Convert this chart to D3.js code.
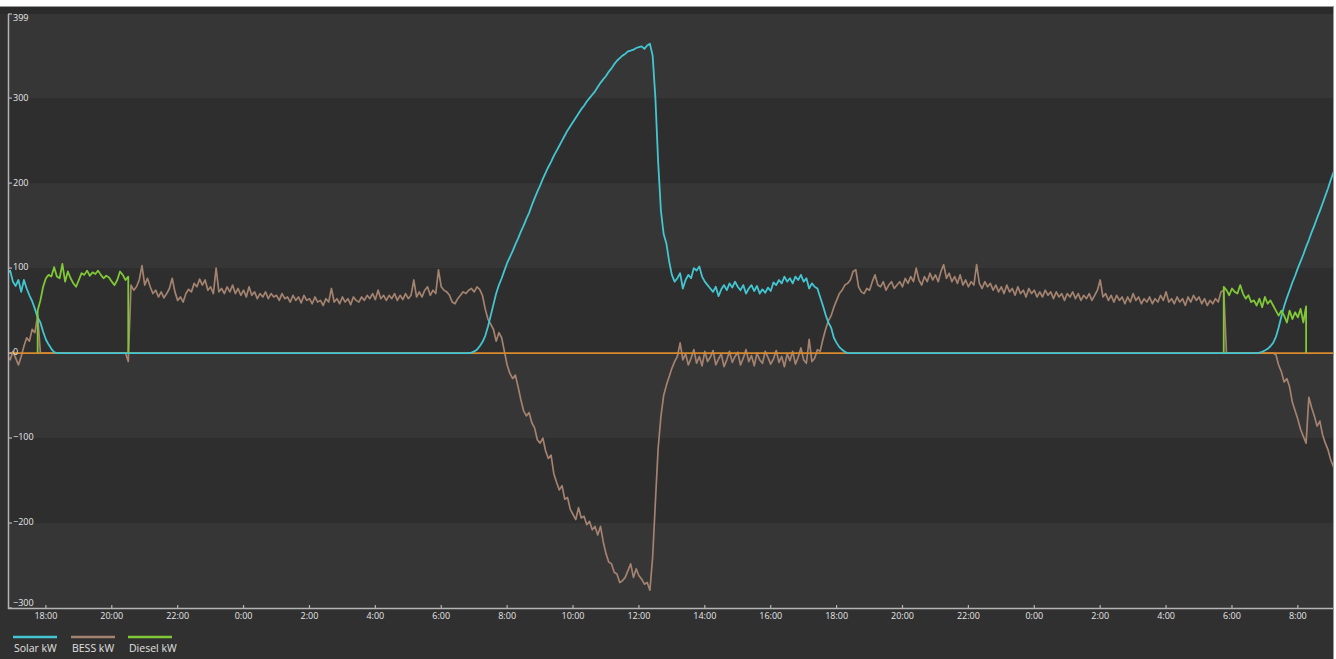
<!DOCTYPE html>
<html><head><meta charset="utf-8">
<script src="https://cdn.jsdelivr.net/npm/d3@7"></script>
<style>html,body{margin:0;padding:0;background:#fff;overflow:hidden}svg{display:block}</style>
</head><body>
<svg id="chart" width="1336" height="659"></svg>
<script>
// ---------- DATA ----------
const xDomain = ["2024-01-01T16:51", "2024-01-03T09:04"];
const yTicks = [-300, -200, -100, 0, 100, 200, 300, 399];
const legendLabels = ["Solar kW", "BESS kW", "Diesel kW"];
const stepMinutes = 5;

// BESS kW, every 5 minutes from 16:50 (one row = one hour)
const bessStart = "2024-01-01T16:50";
const bessValues = [
  -3, -8, 2, -6, -14, -4, 8, 18, 14, 28, 24, 44,
  0, 0, 0, 0, 0, 0, 0, 0, 0, 0, 0, 0,
  0, 0, 0, 0, 0, 0, 0, 0, 0, 0, 0, 0,
  0, 0, 0, 0, 0, 0, 0, 0, -10, 80, 74, 78,
  86, 103, 80, 88, 78, 70, 74, 66, 72, 65, 70, 76,
  88, 72, 62, 66, 60, 70, 75, 72, 82, 78, 87, 80,
  86, 74, 78, 70, 100, 72, 76, 70, 78, 72, 80, 70,
  76, 68, 74, 66, 78, 68, 72, 64, 70, 66, 72, 64,
  70, 66, 68, 62, 70, 64, 66, 60, 68, 62, 66, 59,
  68, 62, 64, 58, 66, 60, 62, 56, 64, 60, 76, 60,
  64, 58, 66, 60, 64, 57, 66, 62, 60, 66, 62, 68,
  64, 70, 63, 74, 64, 68, 62, 68, 64, 70, 62, 68,
  63, 70, 64, 68, 86, 66, 72, 66, 74, 78, 68, 74,
  70, 98, 78, 74, 72, 68, 60, 58, 64, 68, 72, 70,
  74, 76, 72, 78, 75, 68, 52, 40, 34, 28, 14, 24,
  18, 2, -14, -24, -30, -26, -40, -55, -68, -74, -70, -82,
  -88, -102, -106, -100, -115, -124, -120, -142, -152, -161, -156, -172,
  -170, -184, -190, -196, -182, -194, -192, -202, -198, -208, -204, -214,
  -204, -222, -236, -246, -248, -258, -260, -270, -268, -264, -256, -248,
  -264, -254, -262, -266, -272, -270, -279, -240, -175, -112, -75, -50,
  -38, -28, -18, -10, -4, 12, -8, -1, -14, -6, 4, -12,
  -4, -15, 2, -10, -5, 3, -14, -7, -1, -16, -8, 2,
  -11, -4, 1, -14, -6, 4, -10, -3, -15, 0, -8, -12,
  2, -5, -13, -7, 3, -11, -4, -16, -1, -9, 2, -13,
  -5, 6, -8, -12, 16, -10, -6, 4, 2, 16, 28, 38,
  44, 54, 62, 70, 74, 80, 82, 86, 96, 98, 78, 72,
  70, 76, 74, 84, 92, 80, 78, 84, 74, 80, 84, 76,
  80, 84, 78, 88, 82, 90, 84, 100, 86, 80, 90, 84,
  94, 86, 92, 84, 96, 104, 88, 94, 84, 90, 82, 92,
  80, 86, 78, 84, 80, 104, 82, 76, 84, 78, 82, 74,
  80, 72, 78, 70, 80, 72, 76, 68, 78, 70, 74, 66,
  76, 70, 74, 66, 72, 66, 74, 68, 72, 64, 72, 66,
  70, 62, 70, 66, 72, 64, 70, 62, 68, 64, 70, 62,
  68, 74, 86, 66, 70, 62, 68, 60, 68, 62, 66, 58,
  66, 60, 70, 62, 66, 58, 64, 60, 66, 58, 64, 60,
  68, 62, 72, 60, 64, 58, 66, 60, 64, 56, 66, 60,
  68, 62, 66, 58, 64, 56, 62, 58, 64, 60, 72, 74,
  0, 0, 0, 0, 0, 0, 0, 0, 0, 0, 0, 0,
  0, 0, 0, 0, 0, 0, -2, -14, -22, -34, -30, -40,
  -58, -68, -78, -90, -98, -106, -52, -64, -74, -86, -80, -96,
  -106, -114, -126, -134
];

// Solar kW, every 5 minutes, per day (zero between the days)
const solarDay1Start = "2024-01-01T16:50";
const solarDay1 = [94, 97, 84, 79, 86, 72, 86, 76, 68, 61, 52, 42, 36, 25, 16, 10, 5, 1, 0];
const solarDay2Start = "2024-01-02T06:50";
const solarDay2 = [
  0, 0.5, 2, 4, 8, 13, 20, 31, 44, 57, 70, 80,
  88, 97, 106, 113, 120, 128, 135, 143, 150, 158, 165, 174,
  182, 190, 197, 205, 212, 219, 225, 232, 238, 244, 250, 256,
  262, 267, 272, 277, 282, 287, 291, 296, 300, 304, 308, 313,
  318, 322, 326, 331, 335, 340, 344, 347, 350, 352, 355, 356,
  357, 359, 360, 361, 358, 362, 364, 350, 300, 225, 168, 140,
  129, 108, 92, 84, 88, 94, 76, 86, 92, 88, 100, 97,
  102, 90, 84, 80, 76, 72, 78, 67, 75, 80, 74, 82,
  77, 84, 78, 74, 80, 70, 76, 80, 73, 79, 70, 75,
  71, 77, 73, 83, 80, 86, 82, 90, 84, 88, 82, 90,
  86, 92, 84, 88, 76, 82, 78, 76, 66, 56, 45, 36,
  30, 18, 12, 7, 4, 1.5, 0
];
const solarDay3Start = "2024-01-03T06:45";
const solarDay3 = [0, 0.5, 1.5, 3, 5, 8, 12, 19, 30, 43, 55, 65, 74, 83, 91, 100, 108, 116, 125, 133, 142, 150, 159, 167, 176, 185, 194, 204, 213];

// Diesel kW, every 5 minutes while running (0 when off)
const diesel1Start = "2024-01-01T17:45";
const diesel1 = [50, 62, 78, 88, 92, 90, 101, 90, 88, 105, 84, 96, 88, 82, 78, 86, 94, 92, 97, 91, 95, 93, 97, 92, 88, 91, 89, 84, 80, 86, 96, 92, 86, 90];
const diesel2Start = "2024-01-03T05:45";
const diesel2 = [78, 74, 68, 76, 72, 70, 80, 70, 64, 68, 60, 62, 56, 64, 54, 66, 58, 62, 56, 50, 44, 50, 44, 36, 50, 40, 48, 42, 52, 36, 55];

// Zero reference line
const gridValues = [0, 0];

// ---------- CHART ----------
(function () {
const parse = d3.timeParse("%Y-%m-%dT%H:%M");
const W = 1336, H = 659;
const pL = 8, pR = 1333, pT = 14, pB = 608;
const FONT = "'Open Sans', 'Noto Sans', sans-serif";
const colors = { solar: "#43c6d2", bess: "#a3826f", diesel: "#80c837", grid: "#d98a2c" };

const x = d3.scaleTime().domain(xDomain.map(parse)).range([pL, pR]);
const y = d3.scaleLinear().domain([-300, 399]).range([pB, pT]);

const svg = d3.select("#chart");
svg.append("rect").attr("width", W).attr("height", H).attr("fill", "#ffffff");
svg.append("rect").attr("x", 0).attr("y", 6).attr("width", pR).attr("height", H - 6).attr("fill", "#303030");
svg.append("rect").attr("x", 0).attr("y", 7).attr("width", pR).attr("height", pT - 7).attr("fill", "#2b2b2b");
svg.append("line").attr("x1", 0).attr("x2", pR).attr("y1", 6.5).attr("y2", 6.5).attr("stroke", "#9a9a9a");
svg.append("line").attr("x1", pR + 0.5).attr("x2", pR + 0.5).attr("y1", 6).attr("y2", H).attr("stroke", "#9a9a9a");

// bands
const bandEdges = [399, 300, 200, 100, 0, -100, -200, -300];
for (let i = 0; i < bandEdges.length - 1; i++) {
  svg.append("rect")
    .attr("x", pL).attr("width", pR - pL)
    .attr("y", y(bandEdges[i])).attr("height", y(bandEdges[i + 1]) - y(bandEdges[i]))
    .attr("fill", i % 2 === 0 ? "#363636" : "#2e2e2e");
}

svg.append("clipPath").attr("id", "clip").append("rect")
  .attr("x", pL).attr("y", 6).attr("width", pR - pL).attr("height", pB - 6 + 10);

const plot = svg.append("g").attr("clip-path", "url(#clip)");
const line = d3.line().x(d => x(d.t)).y(d => y(d.v));
const seq = (start, vals) => vals.map((v, i) => ({ t: d3.timeMinute.offset(parse(start), i * stepMinutes), v }));

// BESS
plot.append("path").datum(seq(bessStart, bessValues))
  .attr("d", line).attr("fill", "none").attr("stroke", colors.bess).attr("stroke-width", 1.7).attr("stroke-linejoin", "round");

// zero line
plot.append("path").datum(gridValues.map((v, i) => ({ t: parse(xDomain[i]), v })))
  .attr("d", line).attr("fill", "none").attr("stroke", colors.grid).attr("stroke-width", 1.8);

// Solar
const solarPts = [].concat(seq(solarDay1Start, solarDay1), seq(solarDay2Start, solarDay2), seq(solarDay3Start, solarDay3));
plot.append("path").datum(solarPts)
  .attr("d", line).attr("fill", "none").attr("stroke", colors.solar).attr("stroke-width", 1.8).attr("stroke-linejoin", "round");

// Diesel runs
[[diesel1Start, diesel1], [diesel2Start, diesel2]].forEach(([s, vals]) => {
  const pts = seq(s, vals);
  const run = [{ t: pts[0].t, v: 0 }].concat(pts, [{ t: pts[pts.length - 1].t, v: 0 }]);
  plot.append("path").datum(run)
    .attr("d", line).attr("fill", "none").attr("stroke", colors.diesel).attr("stroke-width", 1.8).attr("stroke-linejoin", "round");
});

// Y axis
const axisColor = "#b4b4b4", textColor = "#e6e6e6";
svg.append("line").attr("x1", pL + 0.5).attr("x2", pL + 0.5).attr("y1", pT).attr("y2", pB + 1)
  .attr("stroke", axisColor).attr("stroke-width", 1.5);
yTicks.forEach(v => {
  svg.append("line").attr("x1", pL).attr("x2", pL + 4).attr("y1", y(v)).attr("y2", y(v))
    .attr("stroke", axisColor).attr("stroke-width", 1.2);
  const dy = v === 399 ? 5 : (v === -300 ? -4 : 0);
  svg.append("text").attr("x", pL + 5).attr("y", y(v) + dy)
    .attr("dominant-baseline", "middle").attr("font-family", FONT).attr("font-size", 9)
    .attr("fill", textColor).text(d3.format("d")(v));
});

// X axis
svg.append("line").attr("x1", pL).attr("x2", pR).attr("y1", pB + 0.5).attr("y2", pB + 0.5)
  .attr("stroke", axisColor).attr("stroke-width", 1.5);
const xTicks = x.ticks(d3.timeHour.every(2));
const fmt = d3.timeFormat("%-H:%M");
xTicks.forEach(t => {
  svg.append("line").attr("x1", x(t)).attr("x2", x(t)).attr("y1", pB - 3).attr("y2", pB)
    .attr("stroke", axisColor).attr("stroke-width", 1.2);
  svg.append("text").attr("x", x(t)).attr("y", pB + 9)
    .attr("text-anchor", "middle").attr("dominant-baseline", "middle")
    .attr("font-family", FONT).attr("font-size", 9).attr("fill", textColor).text(fmt(t));
});

// Legend
const legendX = [13, 71, 128];
const legendColors = [colors.solar, colors.bess, colors.diesel];
legendLabels.forEach((lab, i) => {
  svg.append("line").attr("x1", legendX[i]).attr("x2", legendX[i] + 44).attr("y1", 637).attr("y2", 637)
    .attr("stroke", legendColors[i]).attr("stroke-width", 2.5);
  svg.append("text").attr("x", legendX[i] + 1).attr("y", 649)
    .attr("dominant-baseline", "middle").attr("font-family", FONT).attr("font-size", 10.5)
    .attr("fill", "#e0e0e0").text(lab);
});
})();
</script>
</body></html>
